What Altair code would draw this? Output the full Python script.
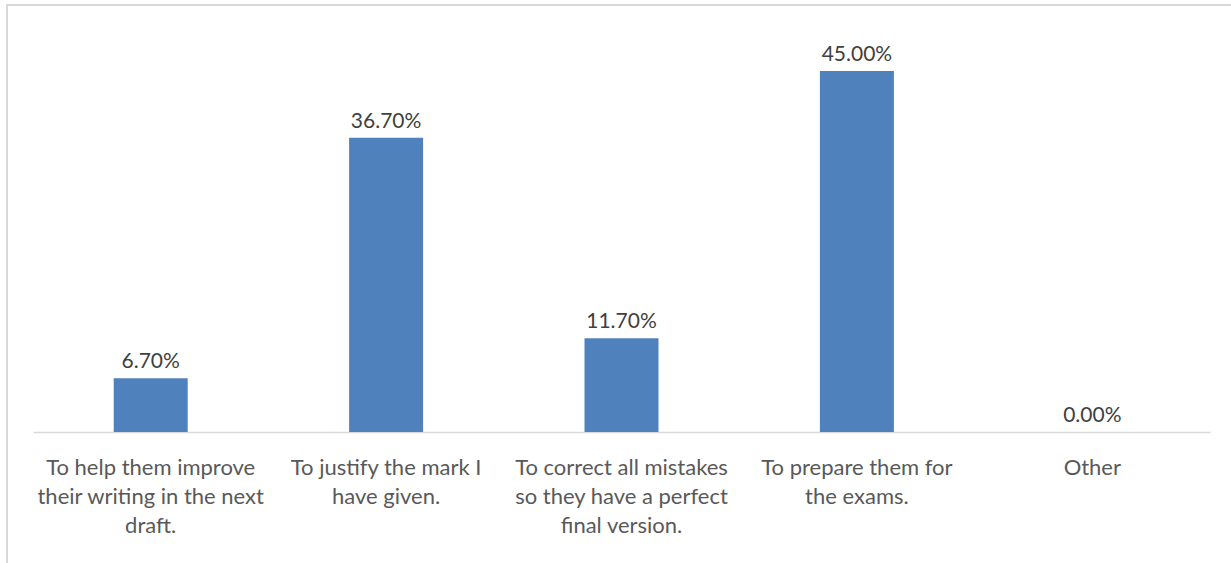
import altair as alt
import pandas as pd

categories = [
    "To help them improve|their writing in the next|draft.",
    "To justify the mark I|have given.",
    "To correct all mistakes|so they have a perfect|final version.",
    "To prepare them for|the exams.",
    "Other",
]
values = [6.70, 36.70, 11.70, 45.00, 0.00]
value_labels = ["6.70%", "36.70%", "11.70%", "45.00%", "0.00%"]

df = pd.DataFrame({"cat": categories, "val": values, "lab": value_labels})

FONT = "Lato"

x = alt.X(
    "cat:N",
    sort=categories,
    title=None,
    scale=alt.Scale(paddingInner=0, paddingOuter=0),
    axis=alt.Axis(
        labelExpr="split(datum.label, '|')",
        labelAngle=0,
        labelFont=FONT,
        labelFontSize=22,
        labelColor="#595959",
        labelLineHeight=29,
        labelBaseline="alphabetic",
        labelPadding=42,
        labelLimit=300,
        ticks=False,
        domainColor="#d9d9d9",
        domainWidth=1.5,
        grid=False,
    ),
)
y = alt.Y(
    "val:Q",
    title=None,
    scale=alt.Scale(domain=[0, 50], nice=False),
    axis=None,
)

bars = alt.Chart(df).mark_bar(size=74, color="#4F81BD").encode(x=x, y=y)
text = alt.Chart(df).mark_text(
    font=FONT, fontSize=21, color="#404040", baseline="alphabetic", dy=-10
).encode(x=x, y=y, text="lab:N")

border_top = alt.Chart(df).mark_rule(color="#d9d9d9", strokeWidth=2).encode(
    x=alt.value(-27), x2=alt.value(1220), y=alt.value(-26)
)
border_left = alt.Chart(df).mark_rule(color="#d9d9d9", strokeWidth=2).encode(
    x=alt.value(-26), y=alt.value(-27), y2=alt.value(560)
)

chart = (
    alt.layer(bars, text, border_top, border_left)
    .properties(
        width=1177,
        height=401,
        autosize=alt.AutoSizeParams(type="none"),
        padding={"left": 33, "top": 31, "right": 21, "bottom": 131},
        background="white",
    )
    .configure_view(stroke=None)
)

chart.save("out.html", embed_options={"renderer": "svg", "actions": False})
